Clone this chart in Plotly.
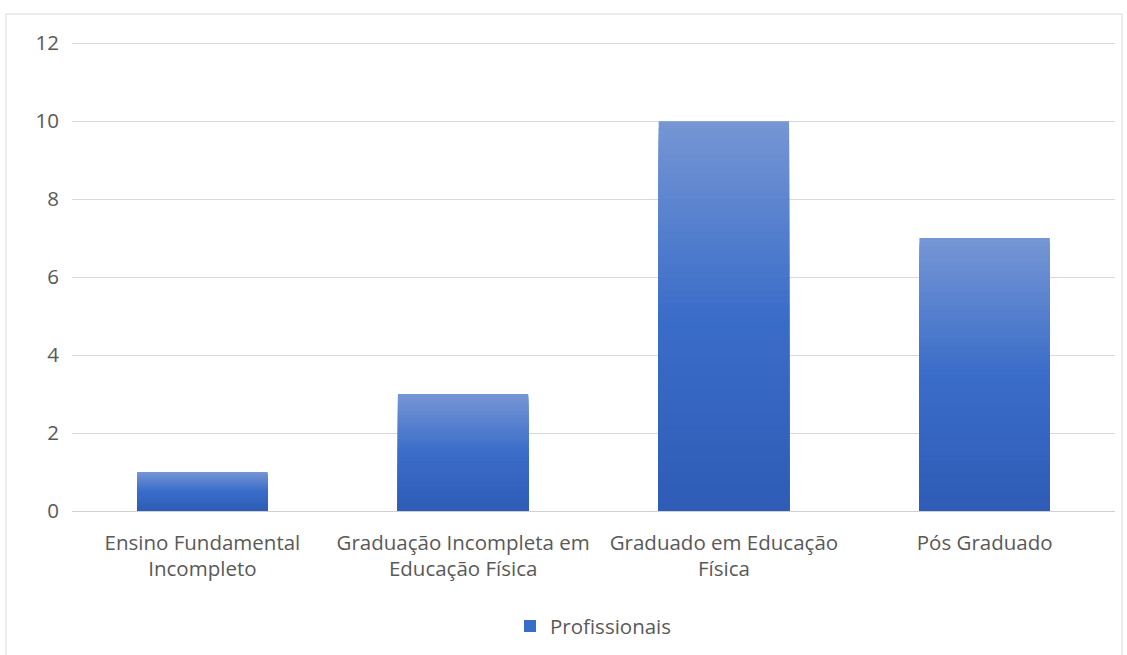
import plotly.graph_objects as go

categories = ["Ensino Fundamental<br>Incompleto",
              "Graduação Incompleta em<br>Educação Física",
              "Graduado em Educação<br>Física",
              "Pós Graduado"]
values = [1, 3, 10, 7]
series_name = "Profissionais"
y_ticks = [0, 2, 4, 6, 8, 10, 12]

# gradient stops (fraction of bar height from bottom -> colour)
stops = [(0.0, (46, 92, 182)), (0.5, (58, 109, 201)), (1.0, (118, 150, 212))]


def grad_color(t):
    for (t0, c0), (t1, c1) in zip(stops[:-1], stops[1:]):
        if t0 <= t <= t1:
            f = (t - t0) / (t1 - t0) if t1 > t0 else 0
            r, g, b = (round(a + (b_ - a) * f) for a, b_ in zip(c0, c1))
            return f"rgb({r},{g},{b})"
    return "rgb(%d,%d,%d)" % stops[-1][1]


N = 60
fig = go.Figure()
for k in range(N, 0, -1):
    t = (k - 0.5) / N
    fig.add_trace(go.Bar(
        x=categories,
        y=[v * k / N for v in values],
        marker=dict(color=grad_color(t), line=dict(width=0)),
        name=series_name,
        showlegend=(k == N // 2),
        width=0.5,
        hoverinfo="skip" if k != N else None,
    ))

font_color = "#595959"
fs = 20.5
fig.update_layout(
    width=1127, height=655,
    barmode="overlay",
    plot_bgcolor="white", paper_bgcolor="white",
    margin=dict(l=72, r=12, t=42, b=144, autoexpand=False),
    font=dict(family="Open Sans, Segoe UI, sans-serif", size=fs, color=font_color),
    showlegend=True,
    legend=dict(orientation="h", x=0.5, xanchor="center",
                yref="container", y=0.044, yanchor="middle",
                font=dict(size=fs, color=font_color), itemwidth=30),
    shapes=[dict(type="rect", xref="paper", yref="paper",
                 x0=-0.0633, x1=1.0067, y0=-0.33, y1=1.0597,
                 line=dict(color="#d9d9d9", width=1), fillcolor="rgba(0,0,0,0)",
                 layer="below")],
)
fig.update_yaxes(range=[0, 12.03], tickvals=y_ticks, showgrid=True, gridcolor="#d9d9d9",
                 gridwidth=1, zeroline=True, zerolinecolor="#d0d0d0", zerolinewidth=1,
                 ticks="", ticklabelstandoff=12, tickfont=dict(size=fs, color=font_color),
                 showline=False)
fig.update_xaxes(showgrid=False, ticks="", tickfont=dict(size=fs, color=font_color),
                 ticklabelstandoff=13,
                 showline=True, linecolor="#d0d0d0", linewidth=1)

fig.write_html("out.html")
